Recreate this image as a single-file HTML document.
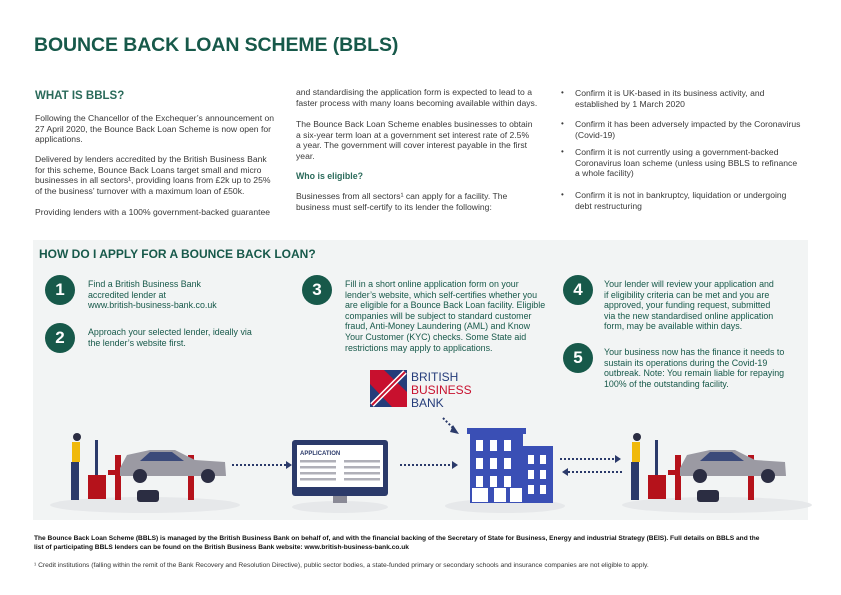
<!DOCTYPE html>
<html><head><meta charset="utf-8"><style>
*{margin:0;padding:0;box-sizing:border-box}
body{width:841px;height:595px;background:#fff;position:relative;overflow:hidden;font-family:"Liberation Sans",sans-serif;color:#3a3a3a}
.t{position:absolute;white-space:nowrap;font-size:8.6px;line-height:10.6px}
.g{color:#17594a;font-size:8.9px}
h1{position:absolute;left:34px;top:34px;font-size:19.5px;font-weight:bold;color:#17594a;letter-spacing:-0.1px}
.h{position:absolute;font-weight:bold;color:#2a6a5a;white-space:nowrap}
.c{position:absolute;width:30px;height:30px;border-radius:50%;background:#17594a;color:#fff;font-weight:bold;font-size:17px;text-align:center;line-height:30px}
.b{position:absolute;font-size:8px}
</style></head><body>
<h1>BOUNCE BACK LOAN SCHEME (BBLS)</h1>
<div class="h" style="left:35px;top:90px;font-size:11.5px">WHAT IS BBLS?</div>
<div class="t" style="left:35px;top:113px">Following the Chancellor of the Exchequer’s announcement on<br>27 April 2020, the Bounce Back Loan Scheme is now open for<br>applications.</div>
<div class="t" style="left:35px;top:154px">Delivered by lenders accredited by the British Business Bank<br>for this scheme, Bounce Back Loans target small and micro<br>businesses in all sectors¹, providing loans from £2k up to 25%<br>of the business’ turnover with a maximum loan of £50k.</div>
<div class="t" style="left:35px;top:207px">Providing lenders with a 100% government-backed guarantee</div>

<div class="t" style="left:296px;top:87px">and standardising the application form is expected to lead to a<br>faster process with many loans becoming available within days.</div>
<div class="t" style="left:296px;top:119px">The Bounce Back Loan Scheme enables businesses to obtain<br>a six-year term loan at a government set interest rate of 2.5%<br>a year. The government will cover interest payable in the first<br>year.</div>
<div class="h" style="left:296px;top:171px;font-size:8.8px">Who is eligible?</div>
<div class="t" style="left:296px;top:191px">Businesses from all sectors¹ can apply for a facility. The<br>business must self-certify to its lender the following:</div>

<div class="b" style="left:561px;top:88px">•</div>
<div class="t" style="left:575px;top:88px">Confirm it is UK-based in its business activity, and<br>established by 1 March 2020</div>
<div class="b" style="left:561px;top:119px">•</div>
<div class="t" style="left:575px;top:119px">Confirm it has been adversely impacted by the Coronavirus<br>(Covid-19)</div>
<div class="b" style="left:561px;top:147px">•</div>
<div class="t" style="left:575px;top:147px">Confirm it is not currently using a government-backed<br>Coronavirus loan scheme (unless using BBLS to refinance<br>a whole facility)</div>
<div class="b" style="left:561px;top:190px">•</div>
<div class="t" style="left:575px;top:190px">Confirm it is not in bankruptcy, liquidation or undergoing<br>debt restructuring</div>

<div style="position:absolute;left:33px;top:240px;width:775px;height:280px;background:#f2f4f4"></div>
<div class="h" style="left:39px;top:247px;font-size:12px;color:#17594a">HOW DO I APPLY FOR A BOUNCE BACK LOAN?</div>
<div class="c" style="left:45px;top:275px">1</div>
<div class="c" style="left:45px;top:323px">2</div>
<div class="c" style="left:302px;top:275px">3</div>
<div class="c" style="left:563px;top:275px">4</div>
<div class="c" style="left:563px;top:343px">5</div>
<div class="t g" style="left:88px;top:279px">Find a British Business Bank<br>accredited lender at<br>www.british-business-bank.co.uk</div>
<div class="t g" style="left:88px;top:327px">Approach your selected lender, ideally via<br>the lender’s website first.</div>
<div class="t g" style="left:345px;top:279px">Fill in a short online application form on your<br>lender’s website, which self-certifies whether you<br>are eligible for a Bounce Back Loan facility. Eligible<br>companies will be subject to standard customer<br>fraud, Anti-Money Laundering (AML) and Know<br>Your Customer (KYC) checks.  Some State aid<br>restrictions may apply to applications.</div>
<div class="t g" style="left:604px;top:279px">Your lender will review your application and<br>if eligibility criteria can be met and you are<br>approved, your funding request, submitted<br>via the new standardised online application<br>form, may be available within days.</div>
<div class="t g" style="left:604px;top:347px">Your business now has the finance it needs to<br>sustain its operations during the Covid-19<br>outbreak. Note: You remain liable for repaying<br>100% of the outstanding facility.</div>

<svg style="position:absolute;left:0;top:0" width="841" height="595">
<rect x="370" y="370" width="37" height="37" fill="#c8102e"/>
<polygon points="370,384 370,407 392,407" fill="#253c7a"/>
<polygon points="384,370 407,370 407,392" fill="#253c7a"/>
<line x1="372" y1="405" x2="405" y2="372" stroke="#fff" stroke-width="5"/>
<line x1="372" y1="405" x2="405" y2="372" stroke="#c8102e" stroke-width="2"/>
<text x="411" y="381" font-family="Liberation Sans" font-size="12" fill="#253c7a">BRITISH</text>
<text x="411" y="394" font-family="Liberation Sans" font-size="12" fill="#c8102e">BUSINESS</text>
<text x="411" y="407" font-family="Liberation Sans" font-size="12" fill="#253c7a">BANK</text>
<ellipse cx="145" cy="505" rx="95" ry="8" fill="#e6e8ea"/>
<ellipse cx="340" cy="507" rx="48" ry="6" fill="#e6e8ea"/>
<ellipse cx="505" cy="506" rx="60" ry="7" fill="#e6e8ea"/>
<ellipse cx="717" cy="505" rx="95" ry="8" fill="#e6e8ea"/>
<g id="m">
<rect x="115" y="455" width="6" height="45" fill="#b5121b"/>
<rect x="188" y="455" width="6" height="45" fill="#b5121b"/>
<rect x="108" y="470" width="95" height="5" fill="#b5121b"/>
<path d="M120 468 L127 455 L150 450 L175 450 L195 460 L225 462 L226 476 L120 476Z" fill="#9b9aa3"/>
<path d="M150 452 L172 452 L184 461 L140 461Z" fill="#3b4a7a"/>
<circle cx="140" cy="476" r="7" fill="#2b2d42"/><circle cx="208" cy="476" r="7" fill="#2b2d42"/>
<rect x="137" y="490" width="22" height="12" rx="3" fill="#2b2d42"/>
<rect x="88" y="475" width="18" height="24" fill="#b5121b"/>
<rect x="72" y="442" width="8" height="20" fill="#f0b90b"/>
<circle cx="77" cy="437" r="4" fill="#2b2d42"/>
<rect x="71" y="462" width="8" height="38" fill="#2b3a6a"/>
<rect x="95" y="440" width="3" height="35" fill="#2b3a6a"/>
</g>
<use href="#m" x="560" y="0"/>
<rect x="292" y="440" width="96" height="56" rx="3" fill="#2b3a6a"/>
<rect x="297" y="445" width="86" height="42" fill="#fff"/>
<text x="300" y="455" font-family="Liberation Sans" font-size="6" font-weight="bold" fill="#2b3a6a">APPLICATION</text>
<g fill="#b0b0b8"><rect x="300" y="460" width="36" height="2.5"/><rect x="344" y="460" width="36" height="2.5"/><rect x="300" y="466" width="36" height="2.5"/><rect x="344" y="466" width="36" height="2.5"/><rect x="300" y="472" width="36" height="2.5"/><rect x="344" y="472" width="36" height="2.5"/><rect x="300" y="478" width="36" height="2.5"/><rect x="344" y="478" width="36" height="2.5"/></g>
<rect x="333" y="496" width="14" height="7" fill="#8a8a96"/>
<rect x="470" y="433" width="53" height="70" fill="#3a4fb5"/>
<rect x="467" y="428" width="59" height="6" fill="#3a4fb5"/>
<rect x="523" y="446" width="30" height="57" fill="#3a4fb5"/>
<g fill="#fff">
<rect x="476" y="440" width="7" height="11"/><rect x="490" y="440" width="7" height="11"/><rect x="504" y="440" width="7" height="11"/>
<rect x="476" y="458" width="7" height="11"/><rect x="490" y="458" width="7" height="11"/><rect x="504" y="458" width="7" height="11"/>
<rect x="476" y="476" width="7" height="11"/><rect x="490" y="476" width="7" height="11"/><rect x="504" y="476" width="7" height="11"/>
<rect x="528" y="455" width="6" height="9"/><rect x="540" y="455" width="6" height="9"/>
<rect x="528" y="470" width="6" height="9"/><rect x="540" y="470" width="6" height="9"/>
<rect x="528" y="485" width="6" height="9"/><rect x="540" y="485" width="6" height="9"/>
<rect x="472" y="488" width="16" height="14"/><rect x="494" y="488" width="12" height="14"/><rect x="510" y="488" width="12" height="14"/>
</g>
<g stroke="#2b3a6a" stroke-width="2" stroke-dasharray="2,2" fill="none">
<line x1="232" y1="465" x2="286" y2="465"/><line x1="400" y1="465" x2="452" y2="465"/>
<line x1="560" y1="459" x2="615" y2="459"/><line x1="568" y1="472" x2="622" y2="472"/>
<line x1="443" y1="418" x2="455" y2="430"/>
</g>
<g fill="#2b3a6a">
<polygon points="286,461 292,465 286,469"/><polygon points="452,461 458,465 452,469"/>
<polygon points="615,455 621,459 615,463"/><polygon points="568,468 562,472 568,476"/>
<polygon points="453,425 459,434 450,432"/>
</g>
</svg>

<div class="t" style="left:34px;top:535px;font-size:6.6px;line-height:8.5px;font-weight:bold;color:#111">The Bounce Back Loan Scheme (BBLS) is managed by the British Business Bank on behalf of, and with the financial backing of the Secretary of State for Business, Energy and industrial Strategy (BEIS). Full details on BBLS and the<br>list of participating BBLS lenders can be found on the British Business Bank website: www.british-business-bank.co.uk</div>
<div class="t" style="left:34px;top:561px;font-size:6.7px;color:#333">¹ Credit institutions (falling within the remit of the Bank Recovery and Resolution Directive), public sector bodies, a state-funded primary or secondary schools and insurance companies are not eligible to apply.</div>
</body></html>
